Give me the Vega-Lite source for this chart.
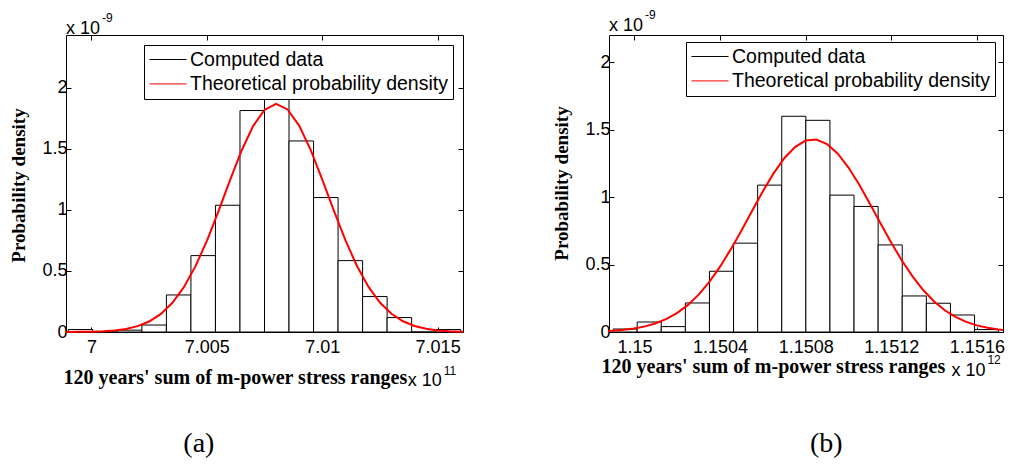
{
  "$schema": "https://vega.github.io/schema/vega-lite/v6.json",
  "background": "white",
  "padding": {"left": 9, "top": 8, "right": 0, "bottom": 0},
  "datasets": {
    "histA": [
      {"start": 6.99900, "end": 7.0000625, "density": 0.02, "series": "Computed data"},
      {"start": 7.0000625, "end": 7.001125, "density": 0, "series": "Computed data"},
      {"start": 7.001125, "end": 7.0021875, "density": 0.015, "series": "Computed data"},
      {"start": 7.0021875, "end": 7.00325, "density": 0.057, "series": "Computed data"},
      {"start": 7.00325, "end": 7.0043125, "density": 0.303, "series": "Computed data"},
      {"start": 7.0043125, "end": 7.005375, "density": 0.625, "series": "Computed data"},
      {"start": 7.005375, "end": 7.0064375, "density": 1.037, "series": "Computed data"},
      {"start": 7.0064375, "end": 7.0075, "density": 1.812, "series": "Computed data"},
      {"start": 7.0075, "end": 7.0085625, "density": 1.93, "series": "Computed data"},
      {"start": 7.0085625, "end": 7.009625, "density": 1.563, "series": "Computed data"},
      {"start": 7.009625, "end": 7.0106875, "density": 1.10, "series": "Computed data"},
      {"start": 7.0106875, "end": 7.01175, "density": 0.584, "series": "Computed data"},
      {"start": 7.01175, "end": 7.0128125, "density": 0.29, "series": "Computed data"},
      {"start": 7.0128125, "end": 7.013875, "density": 0.118, "series": "Computed data"},
      {"start": 7.013875, "end": 7.0149375, "density": 0, "series": "Computed data"},
      {"start": 7.0149375, "end": 7.016, "density": 0.02, "series": "Computed data"}
    ],
    "curveA": [
      {"x": 6.9989, "density": 0.0004, "series": "Theoretical probability density"},
      {"x": 6.9990, "density": 0.0005, "series": "Theoretical probability density"},
      {"x": 6.9995, "density": 0.0012, "series": "Theoretical probability density"},
      {"x": 7.0000, "density": 0.0028, "series": "Theoretical probability density"},
      {"x": 7.0005, "density": 0.0061, "series": "Theoretical probability density"},
      {"x": 7.0010, "density": 0.0127, "series": "Theoretical probability density"},
      {"x": 7.0015, "density": 0.0253, "series": "Theoretical probability density"},
      {"x": 7.0020, "density": 0.0478, "series": "Theoretical probability density"},
      {"x": 7.0025, "density": 0.0858, "series": "Theoretical probability density"},
      {"x": 7.0030, "density": 0.146, "series": "Theoretical probability density"},
      {"x": 7.0035, "density": 0.237, "series": "Theoretical probability density"},
      {"x": 7.0040, "density": 0.365, "series": "Theoretical probability density"},
      {"x": 7.0045, "density": 0.535, "series": "Theoretical probability density"},
      {"x": 7.0050, "density": 0.744, "series": "Theoretical probability density"},
      {"x": 7.0055, "density": 0.985, "series": "Theoretical probability density"},
      {"x": 7.0060, "density": 1.238, "series": "Theoretical probability density"},
      {"x": 7.0065, "density": 1.481, "series": "Theoretical probability density"},
      {"x": 7.0070, "density": 1.683, "series": "Theoretical probability density"},
      {"x": 7.0075, "density": 1.817, "series": "Theoretical probability density"},
      {"x": 7.0080, "density": 1.866, "series": "Theoretical probability density"},
      {"x": 7.0085, "density": 1.821, "series": "Theoretical probability density"},
      {"x": 7.0090, "density": 1.689, "series": "Theoretical probability density"},
      {"x": 7.0095, "density": 1.490, "series": "Theoretical probability density"},
      {"x": 7.0100, "density": 1.249, "series": "Theoretical probability density"},
      {"x": 7.0105, "density": 0.995, "series": "Theoretical probability density"},
      {"x": 7.0110, "density": 0.753, "series": "Theoretical probability density"},
      {"x": 7.0115, "density": 0.542, "series": "Theoretical probability density"},
      {"x": 7.0120, "density": 0.371, "series": "Theoretical probability density"},
      {"x": 7.0125, "density": 0.241, "series": "Theoretical probability density"},
      {"x": 7.0130, "density": 0.149, "series": "Theoretical probability density"},
      {"x": 7.0135, "density": 0.0877, "series": "Theoretical probability density"},
      {"x": 7.0140, "density": 0.049, "series": "Theoretical probability density"},
      {"x": 7.0145, "density": 0.026, "series": "Theoretical probability density"},
      {"x": 7.0150, "density": 0.0131, "series": "Theoretical probability density"},
      {"x": 7.0155, "density": 0.0063, "series": "Theoretical probability density"},
      {"x": 7.0160, "density": 0.0029, "series": "Theoretical probability density"},
      {"x": 7.0161, "density": 0.0025, "series": "Theoretical probability density"}
    ],
    "histB": [
      {"start": 1.1499, "end": 1.1500126, "density": 0.022, "series": "Computed data"},
      {"start": 1.1500126, "end": 1.1501252, "density": 0.074, "series": "Computed data"},
      {"start": 1.1501252, "end": 1.1502378, "density": 0.04, "series": "Computed data"},
      {"start": 1.1502378, "end": 1.1503504, "density": 0.215, "series": "Computed data"},
      {"start": 1.1503504, "end": 1.150463, "density": 0.45, "series": "Computed data"},
      {"start": 1.150463, "end": 1.1505756, "density": 0.658, "series": "Computed data"},
      {"start": 1.1505756, "end": 1.1506882, "density": 1.088, "series": "Computed data"},
      {"start": 1.1506882, "end": 1.1508008, "density": 1.598, "series": "Computed data"},
      {"start": 1.1508008, "end": 1.1509134, "density": 1.568, "series": "Computed data"},
      {"start": 1.1509134, "end": 1.151026, "density": 1.014, "series": "Computed data"},
      {"start": 1.151026, "end": 1.1511386, "density": 0.93, "series": "Computed data"},
      {"start": 1.1511386, "end": 1.1512512, "density": 0.645, "series": "Computed data"},
      {"start": 1.1512512, "end": 1.1513638, "density": 0.267, "series": "Computed data"},
      {"start": 1.1513638, "end": 1.1514764, "density": 0.213, "series": "Computed data"},
      {"start": 1.1514764, "end": 1.151589, "density": 0.126, "series": "Computed data"},
      {"start": 1.151589, "end": 1.1517016, "density": 0.018, "series": "Computed data"}
    ],
    "curveB": [
      {"x": 1.149881, "density": 0.0077, "series": "Theoretical probability density"},
      {"x": 1.14990, "density": 0.0095, "series": "Theoretical probability density"},
      {"x": 1.14995, "density": 0.0160, "series": "Theoretical probability density"},
      {"x": 1.15000, "density": 0.0262, "series": "Theoretical probability density"},
      {"x": 1.15005, "density": 0.0417, "series": "Theoretical probability density"},
      {"x": 1.15010, "density": 0.0646, "series": "Theoretical probability density"},
      {"x": 1.15015, "density": 0.0971, "series": "Theoretical probability density"},
      {"x": 1.15020, "density": 0.142, "series": "Theoretical probability density"},
      {"x": 1.15025, "density": 0.201, "series": "Theoretical probability density"},
      {"x": 1.15030, "density": 0.277, "series": "Theoretical probability density"},
      {"x": 1.15035, "density": 0.371, "series": "Theoretical probability density"},
      {"x": 1.15040, "density": 0.484, "series": "Theoretical probability density"},
      {"x": 1.15045, "density": 0.612, "series": "Theoretical probability density"},
      {"x": 1.15050, "density": 0.752, "series": "Theoretical probability density"},
      {"x": 1.15055, "density": 0.898, "series": "Theoretical probability density"},
      {"x": 1.15060, "density": 1.042, "series": "Theoretical probability density"},
      {"x": 1.15065, "density": 1.175, "series": "Theoretical probability density"},
      {"x": 1.15070, "density": 1.287, "series": "Theoretical probability density"},
      {"x": 1.15075, "density": 1.370, "series": "Theoretical probability density"},
      {"x": 1.15080, "density": 1.418, "series": "Theoretical probability density"},
      {"x": 1.15085, "density": 1.425, "series": "Theoretical probability density"},
      {"x": 1.15090, "density": 1.392, "series": "Theoretical probability density"},
      {"x": 1.15095, "density": 1.321, "series": "Theoretical probability density"},
      {"x": 1.15100, "density": 1.218, "series": "Theoretical probability density"},
      {"x": 1.15105, "density": 1.092, "series": "Theoretical probability density"},
      {"x": 1.15110, "density": 0.950, "series": "Theoretical probability density"},
      {"x": 1.15115, "density": 0.804, "series": "Theoretical probability density"},
      {"x": 1.15120, "density": 0.661, "series": "Theoretical probability density"},
      {"x": 1.15125, "density": 0.528, "series": "Theoretical probability density"},
      {"x": 1.15130, "density": 0.410, "series": "Theoretical probability density"},
      {"x": 1.15135, "density": 0.309, "series": "Theoretical probability density"},
      {"x": 1.15140, "density": 0.226, "series": "Theoretical probability density"},
      {"x": 1.15145, "density": 0.161, "series": "Theoretical probability density"},
      {"x": 1.15150, "density": 0.112, "series": "Theoretical probability density"},
      {"x": 1.15155, "density": 0.075, "series": "Theoretical probability density"},
      {"x": 1.15160, "density": 0.049, "series": "Theoretical probability density"},
      {"x": 1.15165, "density": 0.031, "series": "Theoretical probability density"},
      {"x": 1.15170, "density": 0.019, "series": "Theoretical probability density"},
      {"x": 1.151722, "density": 0.0154, "series": "Theoretical probability density"}
    ]
  },
  "bounds": "flush",
  "spacing": 146,
  "resolve": {
    "scale": {"x": "independent", "y": "independent", "stroke": "independent"},
    "legend": {"stroke": "independent"},
    "axis": {"x": "independent", "y": "independent"}
  },
  "hconcat": [
    {
      "width": 397,
      "height": 297,
      "layer": [
        {
          "data": {"name": "histA"},
          "mark": {"type": "rect", "fill": "white", "strokeWidth": 1},
          "encoding": {
            "x": {"field": "start", "type": "quantitative", "scale": {"domain": [6.9989, 7.0161], "nice": false, "zero": false},
              "axis": {"orient": "bottom", "values": [7, 7.005, 7.01, 7.015], "format": ".3~f", "title": "120 years' sum of m-power stress ranges", "titleX": -3, "titleY": 51, "titleAlign": "left", "titleBaseline": "alphabetic"}},
            "x2": {"field": "end"},
            "y": {"field": "density", "type": "quantitative", "scale": {"domain": [0, 2.43], "nice": false},
              "axis": {"orient": "left", "values": [0, 0.5, 1, 1.5, 2], "format": "~g", "title": "Probability density", "titleX": -42, "titleY": 150, "titleAlign": "center", "titleBaseline": "alphabetic", "titleAngle": 270, "titleFontSize": 19}},
            "y2": {"datum": 0},
            "stroke": {"field": "series", "type": "nominal",
              "scale": {"domain": ["Computed data", "Theoretical probability density"], "range": ["black", "#ff0000"]},
              "legend": {"orient": "none", "legendX": 78, "legendY": 10, "title": null, "symbolType": "stroke", "symbolSize": 1369, "clipHeight": 19, "symbolStrokeWidth": 1, "labelFont": "Liberation Sans", "labelFontSize": 19.5, "labelColor": "black", "labelOffset": 3, "labelLimit": 400, "rowPadding": 4.4, "padding": 5, "strokeColor": "black", "fillColor": "white", "cornerRadius": 0,
                "encode": {"symbols": {"update": {"strokeWidth": {"signal": "datum.value === 'Computed data' ? 1 : 2"}}}}}}
          }
        },
        {
          "data": {"name": "curveA"},
          "mark": {"type": "line", "strokeWidth": 2},
          "encoding": {
            "x": {"field": "x", "type": "quantitative", "axis": {"orient": "top", "values": [7, 7.005, 7.01, 7.015], "labels": false, "title": null}},
            "y": {"field": "density", "type": "quantitative", "axis": {"orient": "right", "values": [0, 0.5, 1, 1.5, 2], "labels": false, "title": null}},
            "stroke": {"field": "series", "type": "nominal"}
          }
        },
        {
          "data": {"values": [{}]},
          "mark": {"type": "text", "align": "left", "baseline": "alphabetic", "font": "Liberation Sans", "fontSize": 18, "color": "black"},
          "encoding": {
            "x": {"datum": 6.9989, "type": "quantitative", "axis": null},
            "y": {"datum": 2.442, "type": "quantitative", "axis": null},
            "text": {"value": "x 10"}
          }
        },
        {
          "data": {"values": [{}]},
          "mark": {"type": "text", "align": "left", "baseline": "alphabetic", "font": "Liberation Sans", "fontSize": 12, "color": "black", "dx": 36, "dy": -12},
          "encoding": {
            "x": {"datum": 6.9989, "type": "quantitative", "axis": null},
            "y": {"datum": 2.442, "type": "quantitative", "axis": null},
            "text": {"value": "-9"}
          }
        },
        {
          "data": {"values": [{}]},
          "mark": {"type": "text", "align": "left", "baseline": "alphabetic", "font": "Liberation Sans", "fontSize": 18, "color": "black"},
          "encoding": {
            "x": {"datum": 7.013708, "type": "quantitative", "axis": null},
            "y": {"datum": -0.44, "type": "quantitative", "axis": null},
            "text": {"value": "x 10"}
          }
        },
        {
          "data": {"values": [{}]},
          "mark": {"type": "text", "align": "left", "baseline": "alphabetic", "font": "Liberation Sans", "fontSize": 12, "color": "black", "dx": 36, "dy": -11},
          "encoding": {
            "x": {"datum": 7.013708, "type": "quantitative", "axis": null},
            "y": {"datum": -0.44, "type": "quantitative", "axis": null},
            "text": {"value": "11"}
          }
        },
        {
          "data": {"values": [{}]},
          "mark": {"type": "text", "align": "center", "baseline": "alphabetic", "font": "Liberation Serif", "fontSize": 28, "color": "black"},
          "encoding": {
            "x": {"datum": 7.004656, "type": "quantitative", "axis": null},
            "y": {"datum": -0.984, "type": "quantitative", "axis": null},
            "text": {"value": "(a)"}
          }
        }
      ]
    },
    {
      "width": 394,
      "height": 297,
      "layer": [
        {
          "data": {"name": "histB"},
          "mark": {"type": "rect", "fill": "white", "strokeWidth": 1},
          "encoding": {
            "x": {"field": "start", "type": "quantitative", "scale": {"domain": [1.149881, 1.151722], "nice": false, "zero": false},
              "axis": {"orient": "bottom", "values": [1.15, 1.1504, 1.1508, 1.1512, 1.1516], "format": ".4~f", "title": "120 years' sum of m-power stress ranges", "titleX": -8, "titleY": 40, "titleAlign": "left", "titleBaseline": "alphabetic"}},
            "x2": {"field": "end"},
            "y": {"field": "density", "type": "quantitative", "scale": {"domain": [0, 2.2], "nice": false},
              "axis": {"orient": "left", "values": [0, 0.5, 1, 1.5, 2], "format": "~g", "title": "Probability density", "titleX": -42, "titleY": 148, "titleAlign": "center", "titleBaseline": "alphabetic", "titleAngle": 270, "titleFontSize": 19}},
            "y2": {"datum": 0},
            "stroke": {"field": "series", "type": "nominal",
              "scale": {"domain": ["Computed data", "Theoretical probability density"], "range": ["black", "#ff0000"]},
              "legend": {"orient": "none", "legendX": 77, "legendY": 7, "title": null, "symbolType": "stroke", "symbolSize": 1369, "clipHeight": 19, "symbolStrokeWidth": 1, "labelFont": "Liberation Sans", "labelFontSize": 19.5, "labelColor": "black", "labelOffset": 3, "labelLimit": 400, "rowPadding": 4.4, "padding": 5, "strokeColor": "black", "fillColor": "white", "cornerRadius": 0,
                "encode": {"symbols": {"update": {"strokeWidth": {"signal": "datum.value === 'Computed data' ? 1 : 2"}}}}}}
          }
        },
        {
          "data": {"name": "curveB"},
          "mark": {"type": "line", "strokeWidth": 2},
          "encoding": {
            "x": {"field": "x", "type": "quantitative", "axis": {"orient": "top", "values": [1.15, 1.1504, 1.1508, 1.1512, 1.1516], "labels": false, "title": null}},
            "y": {"field": "density", "type": "quantitative", "axis": {"orient": "right", "values": [0, 0.5, 1, 1.5, 2], "labels": false, "title": null}},
            "stroke": {"field": "series", "type": "nominal"}
          }
        },
        {
          "data": {"values": [{}]},
          "mark": {"type": "text", "align": "left", "baseline": "alphabetic", "font": "Liberation Sans", "fontSize": 18, "color": "black"},
          "encoding": {
            "x": {"datum": 1.149881, "type": "quantitative", "axis": null},
            "y": {"datum": 2.231, "type": "quantitative", "axis": null},
            "text": {"value": "x 10"}
          }
        },
        {
          "data": {"values": [{}]},
          "mark": {"type": "text", "align": "left", "baseline": "alphabetic", "font": "Liberation Sans", "fontSize": 12, "color": "black", "dx": 36, "dy": -12},
          "encoding": {
            "x": {"datum": 1.149881, "type": "quantitative", "axis": null},
            "y": {"datum": 2.231, "type": "quantitative", "axis": null},
            "text": {"value": "-9"}
          }
        },
        {
          "data": {"values": [{}]},
          "mark": {"type": "text", "align": "left", "baseline": "alphabetic", "font": "Liberation Sans", "fontSize": 18, "color": "black"},
          "encoding": {
            "x": {"datum": 1.151481, "type": "quantitative", "axis": null},
            "y": {"datum": -0.329, "type": "quantitative", "axis": null},
            "text": {"value": "x 10"}
          }
        },
        {
          "data": {"values": [{}]},
          "mark": {"type": "text", "align": "left", "baseline": "alphabetic", "font": "Liberation Sans", "fontSize": 12, "color": "black", "dx": 36, "dy": -12},
          "encoding": {
            "x": {"datum": 1.151481, "type": "quantitative", "axis": null},
            "y": {"datum": -0.329, "type": "quantitative", "axis": null},
            "text": {"value": "12"}
          }
        },
        {
          "data": {"values": [{}]},
          "mark": {"type": "text", "align": "center", "baseline": "alphabetic", "font": "Liberation Serif", "fontSize": 28, "color": "black"},
          "encoding": {
            "x": {"datum": 1.150896, "type": "quantitative", "axis": null},
            "y": {"datum": -0.892, "type": "quantitative", "axis": null},
            "text": {"value": "(b)"}
          }
        }
      ]
    }
  ],
  "config": {
    "view": {"stroke": null},
    "axis": {
      "grid": false,
      "domainColor": "black",
      "domainWidth": 1,
      "tickColor": "black",
      "tickWidth": 1,
      "tickSize": -5,
      "labelColor": "black",
      "labelFont": "Liberation Sans",
      "labelFontSize": 18,
      "labelOverlap": false,
      "labelFlush": false,
      "titleColor": "black",
      "titleFont": "Liberation Serif",
      "titleFontWeight": "bold",
      "titleFontSize": 20
    },
    "axisBottom": {"labelPadding": 11},
    "axisLeft": {"labelPadding": 4}
  }
}
